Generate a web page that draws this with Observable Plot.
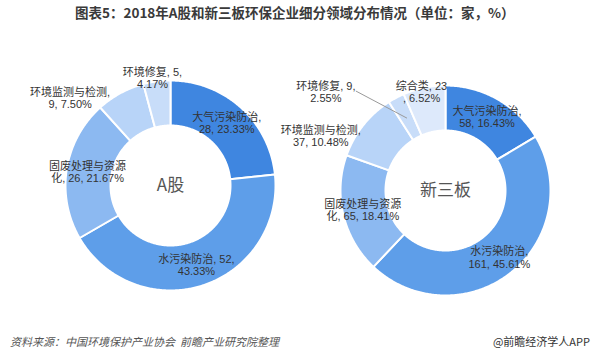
<!DOCTYPE html>
<html>
<head>
<meta charset="utf-8">
<script src="https://cdn.jsdelivr.net/npm/d3@7"></script>
<script src="https://cdn.jsdelivr.net/npm/@observablehq/plot@0.6"></script>
<style>
  html, body { margin: 0; padding: 0; background: #fff; }
  body { width: 601px; height: 363px; overflow: hidden; font-family: "Liberation Sans", "Noto Sans CJK SC", sans-serif; }
  #title { height: 24px; line-height: 24px; padding-left: 75px; font-size: 13.5px; font-weight: bold; color: #3a3a3a; font-family: "Noto Sans CJK SC", sans-serif; white-space: nowrap; }
  #footer { position: relative; height: 33px; font-size: 11px; }
  #src { position: absolute; left: 10px; top: 3px; line-height: 16px; color: #555; font-style: italic; font-family: "Noto Sans CJK SC", sans-serif; }
  #app { position: absolute; right: 11px; top: 3px; line-height: 16px; color: #333; font-family: "Noto Sans CJK SC", sans-serif; }
  svg { display: block; }
</style>
</head>
<body>
<div id="title">图表5：2018年A股和新三板环保企业细分领域分布情况（单位：家，%）</div>
<div id="chart"></div>
<div id="footer"><span id="src">资料来源：中国环境保护产业协会&nbsp; 前瞻产业研究院整理</span><span id="app">@前瞻经济学人APP</span></div>
<script>
// ---- data ----
const categoriesA = ["大气污染防治", "水污染防治", "固废处理与资源化", "环境监测与检测", "环境修复"];
const countsA = [28, 52, 26, 9, 5];
const percentsA = ["23.33%", "43.33%", "21.67%", "7.50%", "4.17%"];

const categoriesB = ["大气污染防治", "水污染防治", "固废处理与资源化", "环境监测与检测", "环境修复", "综合类"];
const countsB = [58, 161, 65, 37, 9, 23];
const percentsB = ["16.43%", "45.61%", "18.41%", "10.48%", "2.55%", "6.52%"];

const centerLabels = ["A股", "新三板"];

// ---- styles / layout ----
const colorOf = {
  "大气污染防治": "#3f86e0",
  "水污染防治": "#5e9ee9",
  "固废处理与资源化": "#8cb9f1",
  "环境监测与检测": "#b8d4f8",
  "环境修复": "#c8ddf9",
  "综合类": "#dde9fb"
};
// label text break positions (Excel wrapping), label placement (radius, angular shift in degrees)
const layoutA = [
  {brk: 7, r: 84, turn: 0},
  {brk: 10, r: 84, turn: 0},
  {brk: 7, r: 84, turn: 0},
  {brk: 8, r: 133, turn: -20.5},
  {brk: 8, r: 109, turn: -2}
];
const layoutB = [
  {brk: 7, r: 84, turn: 0},
  {brk: 6, r: 86, turn: 0},
  {brk: 7, r: 85, turn: 0},
  {brk: 8, r: 136, turn: -15},
  {brk: 8, r: 155, turn: -22.5, leader: true},
  {brk: 7, r: 101, turn: -2}
];
const donuts = [
  {cx: 170, cy: 185, cats: categoriesA, counts: countsA, pcts: percentsA, layout: layoutA, center: centerLabels[0]},
  {cx: 445, cy: 190, cats: categoriesB, counts: countsB, pcts: percentsB, layout: layoutB, center: centerLabels[1]}
];
const R = 105, R0 = 60, TOP = 24, H = 306;

// ---- build mark tables ----
const polys = [], labels = [], leaders = [], centers = [];
donuts.forEach((dn, di) => {
  const arcs = d3.pie().sort(null)(dn.counts);
  const pt = (a, r) => [dn.cx + r * Math.sin(a), dn.cy - r * Math.cos(a)];
  arcs.forEach((a, i) => {
    const key = di + "-" + i;
    const n = Math.max(2, Math.ceil((a.endAngle - a.startAngle) / 0.01));
    const ring = [];
    for (let k = 0; k <= n; k++) ring.push(pt(a.startAngle + (a.endAngle - a.startAngle) * k / n, R));
    for (let k = n; k >= 0; k--) ring.push(pt(a.startAngle + (a.endAngle - a.startAngle) * k / n, R0));
    ring.push(ring[0]);
    ring.forEach(([x, y]) => polys.push({key, x, y, color: colorOf[dn.cats[i]]}));
    const L = dn.layout[i];
    const mid = (a.startAngle + a.endAngle) / 2;
    const [lx, ly] = pt(mid + L.turn * Math.PI / 180, L.r);
    const full = dn.cats[i] + ", " + dn.counts[i] + ", " + dn.pcts[i];
    const text = full.slice(0, L.brk) + "\n" + full.slice(L.brk).trim();
    labels.push({x: lx, y: ly, text});
    if (L.leader) {
      const [ex, ey] = pt(mid, 82);
      leaders.push({x1: lx + 30, y1: ly - 1, x2: ex, y2: ey});
    }
  });
  centers.push({x: dn.cx, y: dn.cy, text: dn.center});
});

const chart = Plot.plot({
  width: 601,
  height: H,
  margin: 0,
  x: {domain: [0, 601], range: [0, 601], axis: null},
  y: {domain: [TOP, TOP + H], range: [0, H], axis: null},
  color: {type: "identity"},
  style: {fontFamily: "'Liberation Sans', 'Noto Sans CJK SC', sans-serif", background: "#fff"},
  marks: [
    Plot.line(polys, {x: "x", y: "y", z: "key", fill: "color", stroke: "#fff", strokeWidth: 2, curve: "linear"}),
    Plot.link(leaders, {x1: "x1", y1: "y1", x2: "x2", y2: "y2", stroke: "#9a9a9a", strokeWidth: 1}),
    Plot.text(labels, {x: "x", y: "y", text: "text", fontSize: 11, lineHeight: 1.1, fill: "#333", textAnchor: "middle"}),
    Plot.text(centers, {x: "x", y: "y", text: "text", fontSize: 17, fill: "#555", fontFamily: "'Noto Sans CJK SC', sans-serif"})
  ]
});
document.getElementById("chart").appendChild(chart);
</script>
</body>
</html>
